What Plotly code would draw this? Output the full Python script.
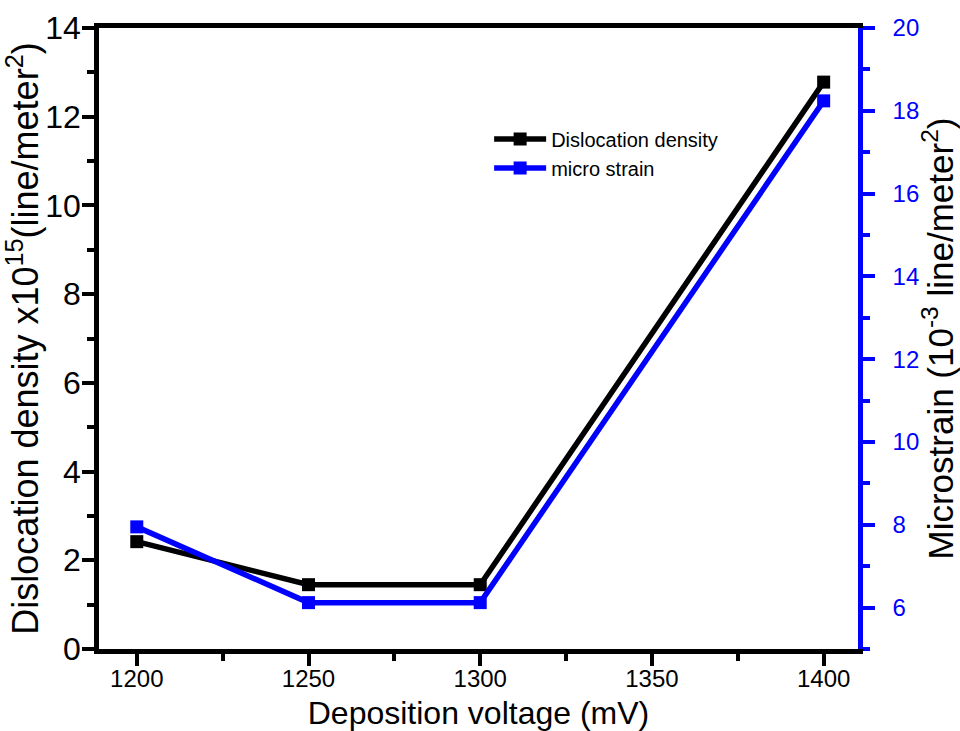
import plotly.graph_objects as go

# Deposition voltage (mV)
voltage = [1200, 1250, 1300, 1400]
# Dislocation density (x10^15 line/m^2)
dislocation = [2.42, 1.45, 1.45, 12.78]
# Microstrain (10^-3 line/m^2)
microstrain = [7.95, 6.12, 6.12, 18.24]

left_ticks = [0, 2, 4, 6, 8, 10, 12, 14]
right_ticks = [6, 8, 10, 12, 14, 16, 18, 20]
x_ticks = [1200, 1250, 1300, 1350, 1400]

FONT = "Liberation Sans, Arial, sans-serif"
BLUE = "#0000ff"

fig = go.Figure()
fig.add_trace(go.Scatter(
    x=voltage, y=dislocation, name="Dislocation density",
    mode="lines+markers",
    line=dict(color="black", width=5.5),
    marker=dict(symbol="square", size=13, color="black"),
))
fig.add_trace(go.Scatter(
    x=voltage, y=microstrain, name="micro strain", yaxis="y2",
    mode="lines+markers",
    line=dict(color=BLUE, width=5.5),
    marker=dict(symbol="square", size=13, color=BLUE),
))

fig.update_layout(
    width=960, height=731,
    margin=dict(l=99, r=102, t=28, b=82),
    paper_bgcolor="white", plot_bgcolor="white",
    font=dict(family=FONT, color="black"),
    showlegend=True,
    legend=dict(
        x=0.514, y=0.798, xanchor="left", yanchor="middle",
        bgcolor="rgba(0,0,0,0)", font=dict(size=20, family=FONT),
        itemwidth=52, tracegroupgap=0,
    ),
    xaxis=dict(
        range=[1189, 1410], automargin=False,
        tickmode="array", tickvals=x_ticks,
        ticks="outside", ticklen=12, tickwidth=4, tickcolor="black",
        ticklabelstandoff=-8,
        minor=dict(ticks="outside", ticklen=7, tickwidth=4, dtick=25, tick0=1175, tickcolor="black"),
        showline=True, linewidth=4.5, linecolor="black", mirror=True,
        showgrid=False, zeroline=False,
        tickfont=dict(size=24, family=FONT),
        title=dict(text="Deposition voltage (mV)", font=dict(size=32, family=FONT), standoff=20),
    ),
    yaxis=dict(
        range=[0, 14], automargin=False,
        tickmode="array", tickvals=left_ticks,
        ticks="outside", ticklen=12, tickwidth=4, tickcolor="black",
        ticklabelstandoff=-5,
        minor=dict(ticks="outside", ticklen=7, tickwidth=4, dtick=1, tick0=0, tickcolor="black"),
        showline=True, linewidth=4.5, linecolor="black",
        showgrid=False, zeroline=False,
        tickfont=dict(size=32, family=FONT),
        title=dict(text="Dislocation density x10<sup>15</sup>(line/meter<sup>2</sup>)",
                   font=dict(size=36, family=FONT), standoff=0),
    ),
    yaxis2=dict(
        overlaying="y", side="right",
        range=[5, 20], automargin=False,
        tickmode="array", tickvals=right_ticks,
        ticks="outside", ticklen=12, tickwidth=4, tickcolor=BLUE,
        ticklabelstandoff=13,
        minor=dict(ticks="outside", ticklen=7, tickwidth=4, dtick=1, tick0=5, tickcolor=BLUE),
        showline=True, linewidth=4.5, linecolor=BLUE,
        showgrid=False, zeroline=False,
        tickfont=dict(size=24, color=BLUE, family=FONT),
        title=dict(text="Microstrain (10<sup>-3</sup> line/meter<sup>2</sup>)",
                   font=dict(size=35, family=FONT, color="black"), standoff=0),
    ),
)

fig.write_html("out.html")
